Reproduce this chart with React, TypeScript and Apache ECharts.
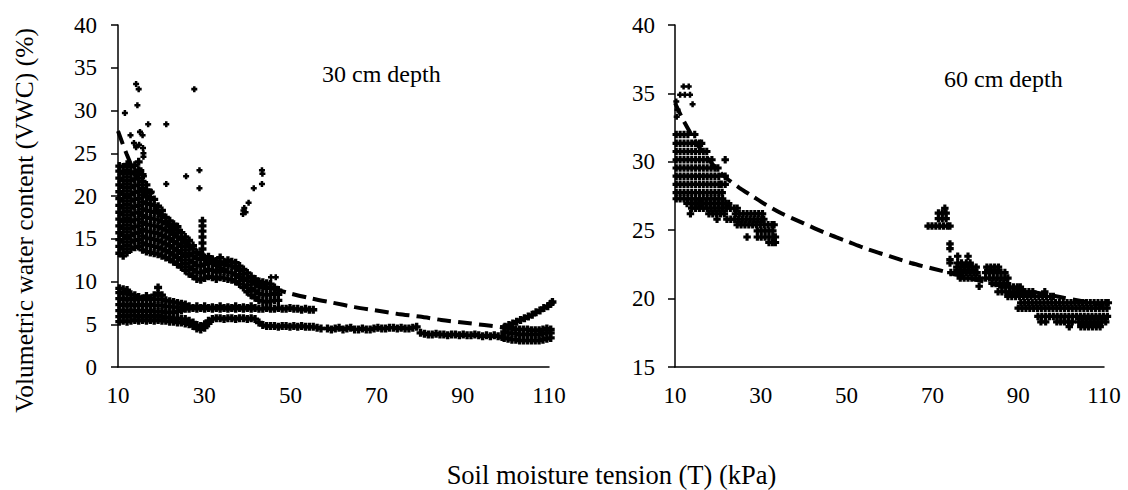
import { useEffect, useRef } from "react";
import * as echarts from "echarts";

// ---------- shared axis values ----------
const X_LABELS = [10, 30, 50, 70, 90, 110];
const X_MIN = 10;
const X_MAX = 110;
const Y30_MIN = 0;
const Y30_MAX = 40;
const Y60_MIN = 15;
const Y60_MAX = 40;

// ---------- 30 cm depth (columns: [T, VWC values]) ----------
const cloud30: [number, number[]][] = [
  [10.3, [13.3, 14.1, 14.9, 15.7, 16.5, 17.3, 18.1, 18.9, 19.7, 20.5, 21.3, 22.1, 22.9, 23.5]],
  [11.2, [13.0, 13.8, 14.6, 15.4, 16.2, 17.0, 17.8, 18.6, 19.4, 20.2, 21.0, 21.8, 22.6, 23.4]],
  [12.1, [13.4, 14.2, 15.0, 15.8, 16.6, 17.4, 18.2, 19.0, 19.8, 20.6, 21.4, 22.2, 23.0, 23.7]],
  [13.0, [13.8, 14.6, 15.4, 16.2, 17.0, 17.8, 18.6, 19.4, 20.2, 21.0, 21.8, 22.6, 23.4]],
  [13.9, [14.0, 14.8, 15.6, 16.4, 17.2, 18.0, 18.8, 19.6, 20.4, 21.2, 22.0, 22.8, 23.6]],
  [14.8, [14.1, 14.9, 15.7, 16.5, 17.3, 18.1, 18.9, 19.7, 20.5, 21.3, 22.1, 23.0, 24.0]],
  [15.7, [13.7, 14.5, 15.3, 16.1, 16.9, 17.7, 18.5, 19.3, 20.1, 20.9, 21.7, 22.5]],
  [16.6, [13.5, 14.3, 15.1, 15.9, 16.7, 17.5, 18.3, 19.1, 19.9, 20.7, 21.3]],
  [17.5, [13.4, 14.2, 15.0, 15.8, 16.6, 17.4, 18.2, 19.0, 19.8, 20.4]],
  [18.4, [13.3, 14.1, 14.9, 15.7, 16.5, 17.3, 18.1, 18.9, 19.6]],
  [19.3, [13.2, 14.0, 14.8, 15.6, 16.4, 17.2, 18.0, 18.8]],
  [20.2, [13.0, 13.8, 14.6, 15.4, 16.2, 17.0, 17.8, 18.3]],
  [21.1, [12.8, 13.6, 14.4, 15.2, 16.0, 16.8, 17.5]],
  [22.0, [12.6, 13.4, 14.2, 15.0, 15.8, 16.6, 17.1]],
  [22.9, [12.3, 13.1, 13.9, 14.7, 15.5, 16.3, 16.7]],
  [23.8, [12.0, 12.8, 13.6, 14.4, 15.2, 16.0, 16.4]],
  [24.7, [11.7, 12.5, 13.3, 14.1, 14.9, 15.7]],
  [25.6, [11.3, 12.1, 12.9, 13.7, 14.5, 15.2]],
  [26.5, [10.9, 11.7, 12.5, 13.3, 14.1, 14.8]],
  [27.4, [10.6, 11.4, 12.2, 13.0, 13.8, 14.2]],
  [28.3, [10.3, 11.1, 11.9, 12.7, 13.4]],
  [29.2, [10.2, 11.0, 11.8, 12.6, 13.2]],
  [29.6, [13.8, 14.5, 15.2, 15.9, 16.5, 17.1]],
  [30.1, [10.4, 11.2, 12.0, 12.8]],
  [31.0, [10.6, 11.4, 12.2, 12.9]],
  [31.9, [10.5, 11.3, 12.1, 12.6]],
  [32.8, [10.3, 11.1, 11.9, 12.4]],
  [33.7, [10.5, 11.3, 12.1, 12.8]],
  [34.6, [10.4, 11.2, 12.0, 12.3]],
  [35.5, [10.3, 11.1, 11.9, 12.5]],
  [36.4, [10.2, 11.0, 11.8, 12.3]],
  [37.3, [10.0, 10.8, 11.6, 12.2]],
  [38.2, [9.7, 10.5, 11.3, 11.8]],
  [39.1, [9.3, 10.1, 10.9, 11.4]],
  [40.0, [8.8, 9.6, 10.4, 11.0]],
  [40.9, [8.4, 9.2, 10.0, 10.6]],
  [41.8, [8.1, 8.9, 9.7, 10.3]],
  [42.7, [7.8, 8.6, 9.4, 10.0]],
  [43.6, [7.7, 8.5, 9.3, 9.9]],
  [44.5, [7.6, 8.4, 9.2, 9.8]],
  [45.4, [7.7, 8.5, 9.3, 9.7]],
  [46.3, [7.8, 8.6, 9.3]],
  [47.2, [7.8, 8.5, 9.0]],
];

const bandA30: [number, number[]][] = [
  [10.3, [6.6, 7.3, 8.0, 8.7, 9.2]],
  [11.2, [6.5, 7.2, 7.9, 8.6, 9.1]],
  [12.1, [6.6, 7.3, 8.0, 8.7, 9.0]],
  [13.0, [6.5, 7.2, 7.9, 8.5]],
  [13.9, [6.6, 7.3, 8.0, 8.4]],
  [14.8, [6.5, 7.2, 7.9, 8.2]],
  [15.7, [6.6, 7.3, 8.0]],
  [16.6, [6.5, 7.2, 7.9, 8.3]],
  [17.5, [6.6, 7.3, 8.0]],
  [18.4, [6.5, 7.2, 7.9, 8.4]],
  [19.3, [6.5, 7.2, 7.9, 8.6, 9.3]],
  [20.2, [6.5, 7.2, 7.9, 8.4]],
  [21.1, [6.4, 7.1, 7.8]],
  [22.0, [6.4, 7.1, 7.7]],
  [22.9, [6.4, 7.0, 7.6]],
  [23.8, [6.5, 7.0, 7.5]],
  [24.7, [6.6, 7.0, 7.4]],
  [25.6, [6.8, 7.3]],
  [26.5, [6.8, 7.1]],
  [27.4, [6.9]],
  [28.3, [6.8, 7.1]],
  [29.2, [6.9]],
  [30.1, [6.8, 7.1]],
  [31.0, [6.9]],
  [31.9, [6.8, 7.0]],
  [32.8, [6.9]],
  [33.7, [6.8, 7.1]],
  [34.6, [6.9]],
  [35.5, [6.8, 7.0]],
  [36.4, [6.9]],
  [37.3, [6.8, 7.1]],
  [38.2, [6.9]],
  [39.1, [6.8, 7.0]],
  [40.0, [6.9]],
  [40.9, [6.8, 7.1]],
  [41.8, [6.9]],
  [42.7, [6.8]],
  [43.6, [6.8]],
  [44.5, [6.9]],
  [45.4, [6.8]],
  [46.3, [6.8]],
  [47.2, [6.9]],
  [48.1, [6.8]],
  [49.0, [6.8]],
  [49.9, [6.9]],
  [50.8, [6.8]],
  [51.7, [6.8]],
  [52.6, [6.7]],
  [53.5, [6.8]],
  [54.4, [6.7]],
  [55.3, [6.7]],
];

const bandB30: [number, number[]][] = [
  [10.3, [5.3, 5.9]], [11.2, [5.4, 6.0]], [12.1, [5.3, 5.9]], [13.0, [5.4, 6.0]],
  [13.9, [5.5, 6.0]], [14.8, [5.4, 5.9]], [15.7, [5.5, 6.0]], [16.6, [5.4, 5.9]],
  [17.5, [5.5, 6.0]], [18.4, [5.4, 5.9]], [19.3, [5.5, 6.0]], [20.2, [5.4, 5.9]],
  [21.1, [5.4, 5.8]], [22.0, [5.3, 5.8]], [22.9, [5.3, 5.7]], [23.8, [5.2, 5.7]],
  [24.7, [5.2, 5.6]], [25.6, [5.1, 5.6]], [26.5, [5.0, 5.4]], [27.4, [4.8, 5.2]],
  [28.3, [4.5, 4.9]], [29.2, [4.4, 4.8]], [30.1, [4.6, 5.0]], [31.0, [5.1, 5.4]],
  [31.9, [5.6]], [32.8, [5.7]], [33.7, [5.7]], [34.6, [5.6]], [35.5, [5.7]],
  [36.4, [5.7]], [37.3, [5.6]], [38.2, [5.7]], [39.1, [5.7]], [40.0, [5.6]],
  [40.9, [5.7]], [41.8, [5.6]], [42.7, [5.2]], [43.6, [4.9]], [44.5, [4.8]],
  [45.4, [4.8]], [46.3, [4.8]], [47.2, [4.7]], [48.1, [4.8]], [49.0, [4.8]],
  [49.9, [4.7]], [50.8, [4.8]], [51.7, [4.7]], [52.6, [4.8]], [53.5, [4.7]],
  [54.4, [4.7]], [55.3, [4.7]], [56.2, [4.6]], [57.1, [4.5]],
];

const tail30: [number, number][] = [
  [58.6, 4.5], [59.5, 4.4], [60.4, 4.5], [61.3, 4.6], [62.2, 4.4], [63.1, 4.5],
  [64.0, 4.6], [64.9, 4.4], [65.8, 4.4], [66.7, 4.5], [67.6, 4.4], [68.5, 4.4],
  [69.4, 4.5], [70.3, 4.6], [71.2, 4.5], [72.1, 4.5], [73.0, 4.6], [73.9, 4.6],
  [74.8, 4.5], [75.7, 4.6], [76.6, 4.5], [77.5, 4.5], [78.4, 4.6], [79.3, 4.7],
  [80.2, 4.0], [81.1, 3.9], [82.0, 3.8], [82.9, 3.8], [83.8, 3.9], [84.7, 3.8],
  [85.6, 3.8], [86.5, 3.7], [87.4, 3.8], [88.3, 3.8], [89.2, 3.7], [90.1, 3.8],
  [91.0, 3.7], [91.9, 3.7], [92.8, 3.8], [93.7, 3.7], [94.6, 3.6], [95.5, 3.7],
  [96.4, 3.6], [97.3, 3.7], [98.2, 3.6], [99.1, 3.5],
];

const endBlob30: [number, number[]][] = [
  [99.6, [3.4, 4.1, 4.6]], [100.5, [3.3, 4.0, 4.6]], [101.4, [3.2, 3.9, 4.5]],
  [102.3, [3.2, 3.9, 4.4]], [103.2, [3.1, 3.8, 4.4]], [104.1, [3.1, 3.8, 4.4]],
  [105.0, [3.1, 3.8, 4.4]], [105.9, [3.1, 3.8, 4.3]], [106.8, [3.1, 3.8, 4.3]],
  [107.7, [3.1, 3.8, 4.3]], [108.6, [3.2, 3.9, 4.4]], [109.5, [3.3, 4.0, 4.5]],
  [110.4, [3.4, 4.0, 4.4]],
];

const arm30: [number, number][] = [
  [99.8, 4.7], [100.7, 4.9], [101.6, 5.1], [102.5, 5.3], [103.4, 5.5], [104.3, 5.7],
  [105.2, 5.9], [106.1, 6.1], [107.0, 6.4], [107.9, 6.6], [108.8, 6.9], [109.7, 7.1],
  [110.4, 7.4], [110.8, 7.6],
];

const outliers30: [number, number][] = [
  [11.6, 29.7], [14.2, 33.1], [14.8, 32.5], [14.5, 30.6], [27.7, 32.5], [17.0, 28.4],
  [21.2, 28.4], [12.9, 27.1], [15.1, 27.5], [15.7, 27.1], [13.7, 26.2], [14.2, 25.7],
  [15.8, 25.6], [15.9, 25.0], [15.9, 24.6], [14.9, 26.0], [15.4, 23.0], [16.0, 22.3],
  [25.8, 22.3], [28.9, 23.0], [28.9, 20.9], [21.2, 21.4], [17.8, 20.5], [41.5, 20.9],
  [43.4, 23.0], [43.5, 22.6], [43.4, 21.4], [39.0, 17.9], [39.1, 18.3], [39.3, 18.6],
  [39.6, 18.1], [40.3, 19.2], [45.5, 10.5], [46.6, 10.5],
];

const fitT30 = [10, 12, 14, 16, 18, 20, 22, 25, 28, 31, 35, 40, 45, 50, 55, 60, 65, 70, 75, 80, 85, 90, 95, 100];
const fitV30 = [27.6, 24.9, 22.6, 20.7, 19.1, 17.6, 16.3, 14.7, 13.5, 12.4, 11.3, 10.2, 9.3, 8.6, 8.0, 7.5, 7.0, 6.6, 6.2, 5.9, 5.5, 5.2, 4.9, 4.6];

// ---------- 60 cm depth (rows: [VWC, T values]) ----------
const block60: [number, number[]][] = [
  [32.0, [10.3, 11.2, 12.1, 13.0, 14.6]],
  [31.35, [10.3, 11.2, 12.1, 13.0, 13.9, 14.8, 15.7, 16.2]],
  [30.75, [10.3, 11.2, 12.1, 13.0, 13.9, 14.8, 15.7, 16.6, 17.4]],
  [30.15, [10.3, 11.2, 12.1, 13.0, 13.9, 14.8, 15.7, 16.6, 17.5, 18.6, 21.7]],
  [29.55, [10.3, 11.2, 12.1, 13.0, 13.9, 14.8, 15.7, 16.6, 17.5, 18.4, 19.3, 20.0]],
  [28.95, [10.3, 11.2, 12.1, 13.0, 13.9, 14.8, 15.7, 16.6, 17.5, 18.4, 19.3, 20.2, 21.7]],
  [28.35, [10.3, 11.2, 12.1, 13.0, 13.9, 14.8, 15.7, 16.6, 17.5, 18.4, 19.3, 20.2, 20.8, 21.7]],
  [27.75, [10.3, 11.2, 12.1, 13.0, 13.9, 14.8, 15.7, 16.6, 17.5, 18.4, 19.3, 20.2, 21.0]],
  [27.3, [10.3, 11.2, 12.1, 13.0, 13.9, 14.8, 15.7, 16.6, 17.5, 18.4, 19.3, 20.2, 21.1]],
  [26.95, [12.8, 13.7, 14.6, 15.5, 16.4, 17.3, 18.2, 19.1, 20.0, 20.9, 21.8, 22.5]],
  [26.6, [13.9, 14.8, 15.7, 16.6, 17.5, 18.4, 19.3, 20.2, 21.1, 22.0, 22.9, 23.8, 24.5]],
  [26.2, [13.6, 17.9, 18.8, 19.7, 20.6, 21.5, 24.1, 25.0, 25.9, 26.8, 27.7, 28.6, 29.5, 30.4]],
  [25.8, [19.8, 22.1, 23.0, 23.9, 24.8, 25.7, 26.6, 27.5, 28.4, 29.3, 30.2, 30.7]],
  [25.4, [24.5, 25.4, 26.3, 27.2, 28.1, 29.0, 29.9, 30.8, 31.7, 32.6, 33.1]],
  [24.95, [29.2, 30.1, 31.0, 31.9, 32.8]],
  [24.5, [26.8, 29.2, 30.1, 31.0, 31.9, 32.8, 33.4]],
  [24.1, [31.9, 32.7, 33.4]],
];

const tail60: [number, number[]][] = [
  [26.6, [72.9]],
  [26.25, [71.4, 72.3, 73.2]],
  [25.85, [71.4, 72.3, 73.2]],
  [25.3, [69.0, 69.9, 70.8, 71.7, 72.6, 73.5, 74.1]],
  [24.0, [74.1]],
  [23.65, [74.1]],
  [23.1, [75.9, 78.3]],
  [22.85, [74.1]],
  [22.6, [74.1, 75.9, 76.8, 77.9, 78.8]],
  [22.3, [75.7, 76.6, 77.5, 78.4, 79.3, 80.2, 82.7, 83.6, 84.5, 85.4]],
  [21.9, [74.3, 75.2, 76.1, 77.0, 77.9, 78.8, 79.7, 80.4, 82.4, 83.3, 84.2, 85.1, 86.0, 86.9]],
  [21.5, [76.5, 77.4, 78.3, 79.2, 80.1, 81.0, 82.4, 83.3, 84.2, 85.1, 86.0, 86.9, 87.6]],
  [21.1, [83.9, 84.8, 85.7, 86.6, 87.5]],
  [20.9, [80.9]],
  [20.85, [86.2, 87.1, 88.0, 88.9, 89.8, 90.5]],
  [20.5, [85.3, 86.2, 87.1, 88.0, 88.9, 89.8, 90.7, 91.6, 92.5, 93.4, 96.2]],
  [20.15, [87.6, 88.5, 89.4, 90.3, 91.2, 92.1, 93.0, 93.9, 94.8, 95.7, 96.6, 97.5, 98.2]],
  [19.7, [90.6, 91.5, 92.4, 93.3, 94.2, 95.1, 96.0, 96.9, 97.8, 98.7, 99.6, 100.5, 101.4, 102.3, 103.2, 104.1, 105.0, 105.9, 106.8, 107.7, 108.6, 109.5, 110.4, 111.0]],
  [19.3, [90.0, 90.9, 91.8, 92.7, 93.6, 94.5, 95.4, 96.3, 97.2, 98.1, 99.0, 99.9, 100.8, 101.7, 102.6, 103.5, 104.4, 105.3, 106.2, 107.1, 108.0, 108.9, 109.8, 110.7]],
  [18.7, [94.6, 95.5, 96.4, 97.3, 98.2, 99.1, 100.0, 100.9, 101.8, 102.7, 103.6, 104.5, 105.4, 106.3, 107.2, 108.1, 109.0, 109.9, 110.8]],
  [18.3, [95.3, 96.4, 99.0, 99.9, 100.8, 101.7, 102.6, 104.1, 105.0, 105.9, 106.8, 107.7, 108.6, 109.5, 110.4]],
  [17.95, [101.9, 104.6, 105.5, 106.4, 107.3, 108.2, 109.1]],
];

const outliers60: [number, number][] = [
  [12.0, 35.5], [13.2, 35.5], [11.2, 34.9], [12.3, 34.9], [13.5, 34.9], [14.1, 34.2],
  [10.3, 34.4], [10.6, 33.8], [10.4, 33.3],
];

const fitT60 = [10, 12, 14, 16, 18, 20, 22, 25, 28, 31, 35, 40, 45, 50, 55, 60, 65, 70, 75, 80, 85, 90, 95, 100, 105, 110];
const fitV60 = [34.3, 33.0, 31.9, 30.9, 30.1, 29.4, 28.8, 28.1, 27.5, 26.9, 26.2, 25.5, 24.8, 24.2, 23.6, 23.1, 22.6, 22.2, 21.8, 21.4, 21.0, 20.7, 20.4, 20.1, 19.8, 19.5];

// ---------- helpers ----------
const fromCols = (c: [number, number[]][]) => c.flatMap(([x, ys]) => ys.map((y) => [x, y]));
const fromRows = (r: [number, number[]][]) => r.flatMap(([y, xs]) => xs.map((x) => [x, y]));
const zip = (xs: number[], ys: number[]) => xs.map((x, i) => [x, ys[i]]);

const FONT = "Liberation Serif, Times New Roman, Times, serif";
// bold plus sign (arm thickness ~0.42 of its size)
const PLUS = "path://M1.75,0H4.25V1.75H6V4.25H4.25V6H1.75V4.25H0V1.75H1.75Z";
const AXIS_LINE = { color: "#000", width: 1.5 };

function scatter(data: number[][], idx: number, size: number) {
  return {
    type: "scatter",
    xAxisIndex: idx,
    yAxisIndex: idx,
    data,
    symbol: PLUS,
    symbolSize: size,
    clip: false,
    itemStyle: { color: "#000", opacity: 1 },
    silent: true,
    z: 2,
  };
}

function fit(data: number[][], idx: number) {
  return {
    type: "line",
    xAxisIndex: idx,
    yAxisIndex: idx,
    data,
    smooth: 0.3,
    showSymbol: false,
    symbol: "none",
    lineStyle: { color: "#000", width: 4, type: [14, 7] },
    silent: true,
    z: 5,
  };
}

function xAxis(idx: number) {
  return {
    type: "value",
    gridIndex: idx,
    min: X_MIN,
    max: X_MAX,
    interval: 10,
    axisLine: { show: true, onZero: false, lineStyle: AXIS_LINE },
    axisTick: { show: false },
    splitLine: { show: false },
    axisLabel: {
      margin: 17,
      color: "#000",
      fontFamily: FONT,
      fontSize: 23,
      lineHeight: 23,
      formatter: (v: number) => (X_LABELS.includes(v) ? String(v) : ""),
    },
  };
}

function yAxis(idx: number, min: number, max: number, margin: number) {
  return {
    type: "value",
    gridIndex: idx,
    min,
    max,
    interval: 5,
    axisLine: { show: true, lineStyle: AXIS_LINE },
    axisTick: { show: true, inside: false, length: 7, lineStyle: AXIS_LINE },
    splitLine: { show: false },
    axisLabel: { margin, color: "#000", fontFamily: FONT, fontSize: 23 },
  };
}

export default function App() {
  const ref = useRef<HTMLDivElement>(null);

  useEffect(() => {
    if (!ref.current) return;
    const chart = echarts.init(ref.current, undefined, { renderer: "svg" });
    chart.setOption({
      animation: false,
      backgroundColor: "#fff",
      textStyle: { fontFamily: FONT },
      grid: [
        { left: 118, top: 25, width: 431, height: 342 },
        { left: 675, top: 25, width: 429, height: 342 },
      ],
      xAxis: [xAxis(0), xAxis(1)],
      yAxis: [yAxis(0, Y30_MIN, Y30_MAX, 21), yAxis(1, Y60_MIN, Y60_MAX, 20)],
      series: [
        scatter(fromCols(cloud30), 0, 8),
        scatter(fromCols(bandA30), 0, 8),
        scatter(fromCols(bandB30), 0, 8),
        scatter(tail30, 0, 8),
        scatter(fromCols(endBlob30), 0, 8),
        scatter(arm30, 0, 8),
        scatter(outliers30, 0, 6),
        fit(zip(fitT30, fitV30), 0),
        scatter(fromRows(block60), 1, 7.5),
        scatter(fromRows(tail60), 1, 7.5),
        scatter(outliers60, 1, 6),
        fit(zip(fitT60, fitV60), 1),
      ],
      graphic: [
        {
          type: "text",
          x: 322,
          y: 73.5,
          silent: true,
          style: { text: "30 cm depth", fill: "#000", fontFamily: FONT, fontSize: 24, align: "left", verticalAlign: "middle" },
        },
        {
          type: "text",
          x: 944,
          y: 79.4,
          silent: true,
          style: { text: "60 cm depth", fill: "#000", fontFamily: FONT, fontSize: 24, align: "left", verticalAlign: "middle" },
        },
        {
          type: "text",
          x: 611.5,
          y: 474.5,
          silent: true,
          style: { text: "Soil moisture tension (T) (kPa)", fill: "#000", fontFamily: FONT, fontSize: 26.5, align: "center", verticalAlign: "middle" },
        },
        {
          type: "text",
          x: 24,
          y: 220.5,
          rotation: Math.PI / 2,
          silent: true,
          style: { text: "Volumetric water content (VWC) (%)", fill: "#000", fontFamily: FONT, fontSize: 25.5, align: "center", verticalAlign: "middle" },
        },
      ],
    });
    return () => chart.dispose();
  }, []);

  return <div ref={ref} style={{ position: "absolute", left: 0, top: 0, width: 1128, height: 490 }} />;
}
